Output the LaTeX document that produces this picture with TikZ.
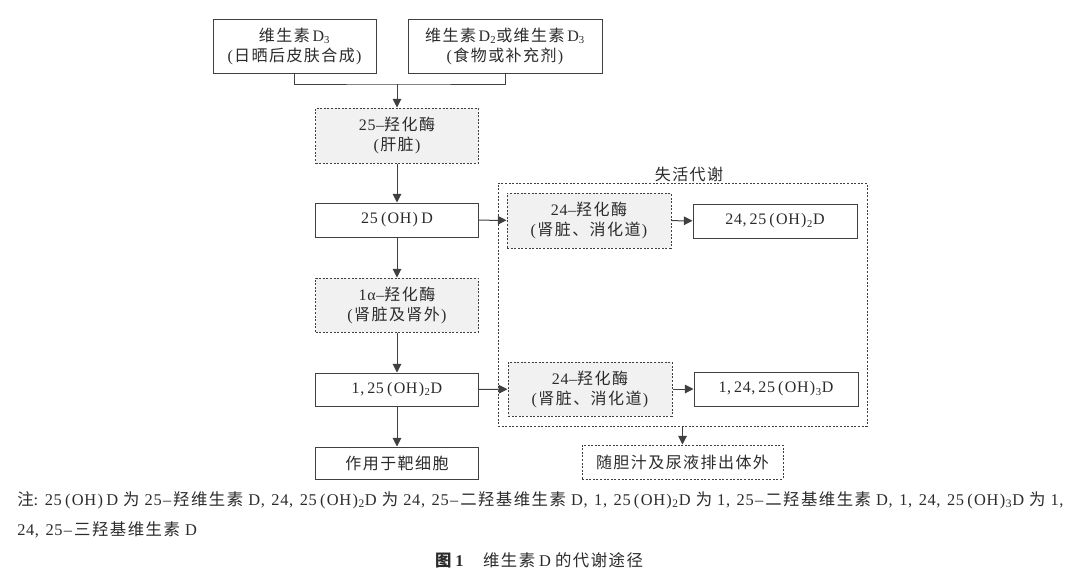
\documentclass[tikz,border=0pt]{standalone}
\usepackage{fontspec}
\setmainfont[LetterSpace=4]{Liberation Serif}
\newfontfamily\cjk[LetterSpace=9]{Noto Sans CJK SC}
\usetikzlibrary{arrows.meta,positioning}
\definecolor{vdline}{HTML}{404040}
\definecolor{vdtext}{HTML}{2B2B2B}
\definecolor{vdfill}{HTML}{F1F1F1}
\newcommand{\zh}[1]{{\cjk #1}}
\newcommand{\lp}{\kern2.4pt(\kern1pt}
\newcommand{\rp}{\kern1pt)\kern2.4pt}
\newcommand{\rps}{\kern1pt)\kern0.4pt}
\newcommand{\cm}{,\kern2.2pt}
% wider spacing of the note lines
\newcommand{\notecm}{,\kern4.9pt}
\newcommand{\notedash}{\kern1pt–\kern1.5pt}
\newcommand{\notegap}{\kern3.8pt}
\tikzset{
  basebox/.style={draw=vdline,line width=0.75pt,inner sep=0pt,align=center,text=vdtext,
    font=\fontsize{12}{15}\selectfont},
  solidbox/.style={basebox,fill=white},
  enzymebox/.style={basebox,fill=vdfill,dash pattern=on 1.5pt off 1.2pt},
  dotbox/.style={basebox,fill=none,dash pattern=on 1.5pt off 1.2pt},
  flow/.style={draw=vdline,line width=0.75pt,-{Triangle[length=6.5pt,width=6.5pt]}},
  plainline/.style={draw=vdline,line width=0.75pt},
  note/.style={inner sep=0pt,anchor=west,text=vdtext,font=\fontsize{12.3}{15}\selectfont},
}

\begin{document}
\begin{tikzpicture}[x=0.75pt,y=-0.75pt]
  \useasboundingbox (0,0) rectangle (1080,576);

  % ---- Sources (top) -----------------------------------------
  \node[solidbox,minimum width=122.25pt,minimum height=40.5pt] (vitA) at (294.5,46)
    {\zh{维生素}\,D\textsubscript{3}\\(\kern1pt\zh{日晒后皮肤合成}\kern1pt)};
  \node[solidbox,minimum width=145.5pt,minimum height=40.5pt] (vitB) at (505,46)
    {\zh{维生素}\,D\textsubscript{2}\zh{或维生素}\,D\textsubscript{3}\\(\kern1pt\zh{食物或补充剂}\kern1pt)};
  \coordinate (join) at (397,84);

  % ---- Main path (left) --------------------------------------
  \node[enzymebox,minimum width=122.25pt,minimum height=41.25pt] (enzLiver) at (397,135.5)
    {25–\zh{羟化酶}\\(\kern1pt\zh{肝脏}\kern1pt)};
  \node[solidbox,minimum width=122.25pt,minimum height=25.5pt] (calcidiol) at (397,220)
    {25\lp OH\rp D};
  \node[enzymebox,minimum width=122.25pt,minimum height=40.5pt] (enzKidney) at (397,305)
    {1α–\zh{羟化酶}\\(\kern1pt\zh{肾脏及肾外}\kern1pt)};
  \node[solidbox,minimum width=122.25pt,minimum height=24.75pt] (calcitriol) at (397,389.5)
    {1\cm 25\lp OH\rps\textsubscript{2}D};
  \node[solidbox,minimum width=122.25pt,minimum height=24pt] (target) at (397,463)
    {\zh{作用于靶细胞}};

  % ---- Inactivation (right) ----------------------------------
  \node[dotbox,minimum width=276.75pt,minimum height=182.25pt] (inactive) at (682.5,304.5) {};
  \node[inner sep=0pt,text=vdtext,font=\fontsize{12}{15}\selectfont] (inactiveLabel) at (689,174)
    {\zh{失活代谢}};
  \node[enzymebox,minimum width=123pt,minimum height=41.25pt] (enzUpper) at (589,220.5)
    {24–\zh{羟化酶}\\(\kern1pt\zh{肾脏、消化道}\kern1pt)};
  \node[solidbox,minimum width=123pt,minimum height=25.5pt] (prodUpper) at (775,221)
    {24\cm 25\lp OH\rps\textsubscript{2}D};
  \node[enzymebox,minimum width=123pt,minimum height=40.5pt] (enzLower) at (590,389)
    {24–\zh{羟化酶}\\(\kern1pt\zh{肾脏、消化道}\kern1pt)};
  \node[solidbox,minimum width=123pt,minimum height=25.5pt] (prodLower) at (776,389)
    {1\cm 24\cm 25\lp OH\rps\textsubscript{3}D};
  \node[dotbox,minimum width=150.75pt,minimum height=25.5pt] (excrete) at (682.5,462)
    {\zh{随胆汁及尿液排出体外}};

  % ---- Connectors --------------------------------------------
  \draw[plainline] (vitA.south) |- (join) -| (vitB.south);
  \draw[flow] (join) -- (enzLiver.north);
  \draw[flow] (enzLiver) -- (calcidiol);
  \draw[flow] (calcidiol) -- (enzKidney);
  \draw[flow] (enzKidney) -- (calcitriol);
  \draw[flow] (calcitriol) -- (target);
  \draw[flow] (calcidiol) -- (enzUpper);
  \draw[flow] (enzUpper) -- (prodUpper);
  \draw[flow] (calcitriol) -- (enzLower);
  \draw[flow] (enzLower) -- (prodLower);
  \draw[flow] (inactive) -- (excrete);

  % ---- Note and caption --------------------------------------
  \node[note] (noteOne) at (17,500)
    {\zh{注}:\kern5pt 25\lp OH\rp D\notegap\zh{为}\notegap 25\notedash\zh{羟维生素}\notegap D\notecm 24\notecm 25\lp OH\rps\textsubscript{2}D\notegap\zh{为}\notegap 24\notecm 25\notedash\zh{二羟基维生素}\notegap D\notecm 1\notecm 25\lp OH\rps\textsubscript{2}D\notegap\zh{为}\notegap 1\notecm 25\notedash\zh{二羟基维生素}\notegap D\notecm 1\notecm 24\notecm 25\lp OH\rps\textsubscript{3}D\notegap\zh{为}\notegap 1,};
  \node[note] (noteTwo) at (17,530)
    {24\notecm 25\notedash\zh{三羟基维生素}\notegap D};
  \node[note,anchor=center] (caption) at (539,560)
    {\textbf{\zh{图}\kern3pt 1}\hspace{14pt}\zh{维生素}\kern3pt D\kern3pt\zh{的代谢途径}};
\end{tikzpicture}
\end{document}
